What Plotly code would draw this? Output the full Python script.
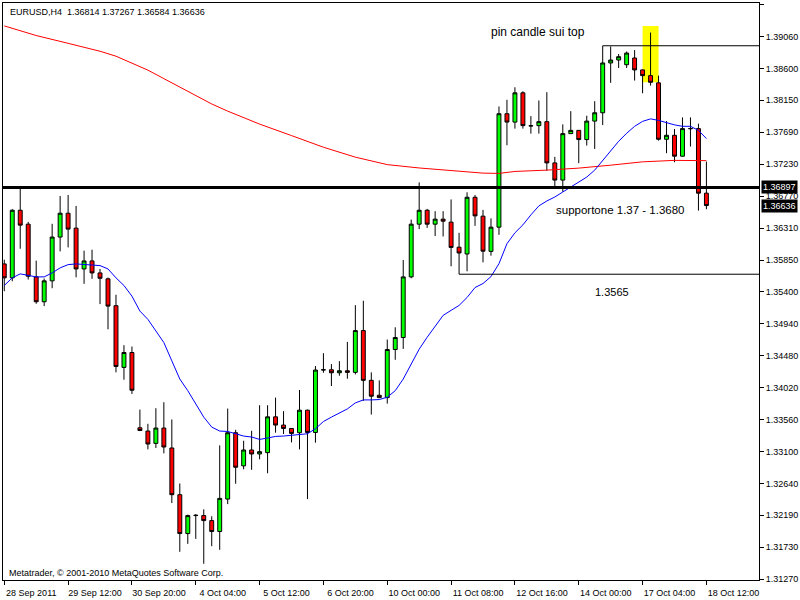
import plotly.graph_objects as go

# ---- data (EURUSD H4) ----
open_ = [1.35798, 1.35598, 1.36569, 1.36369, 1.35612, 1.35255, 1.35555, 1.36184, 1.36526, 1.36312,
         1.35726, 1.35841, 1.35669, 1.35584, 1.35198, 1.34312, 1.34526, 1.33445, 1.33398, 1.33221,
         1.33441, 1.33155, 1.32484, 1.31926, 1.32184, 1.32184, 1.32112, 1.31955, 1.32421, 1.33374,
         1.32898, 1.33126, 1.33069, 1.33088, 1.33602, 1.33484, 1.33435, 1.33374, 1.33698, 1.33378,
         1.34275, 1.34278, 1.34235, 1.34264, 1.34241, 1.34841, 1.34126, 1.33912, 1.33878, 1.34569,
         1.34741, 1.35612, 1.36369, 1.36569, 1.36369, 1.36441, 1.36398, 1.36038, 1.35941, 1.36755,
         1.36484, 1.35978, 1.36326, 1.37955, 1.37835, 1.38255, 1.37784, 1.37784, 1.37841, 1.37249,
         1.37002, 1.37669, 1.37716, 1.37584, 1.37849, 1.37969, 1.38684, 1.38726, 1.38659, 1.38755,
         1.38584, 1.38502, 1.38398, 1.37588, 1.37645, 1.37345, 1.37741, 1.37741, 1.36814]
high = [1.35859, 1.36584, 1.36898, 1.36402, 1.35845, 1.35588, 1.36374, 1.36774, 1.36788, 1.36631,
        1.35988, 1.36002, 1.35726, 1.35602, 1.35355, 1.34631, 1.34612, 1.33706, 1.33502, 1.33726,
        1.33812, 1.33564, 1.32645, 1.32198, 1.32206, 1.32274, 1.32174, 1.33192, 1.33721, 1.33416,
        1.33259, 1.33402, 1.33769, 1.33769, 1.33878, 1.33684, 1.33440, 1.33988, 1.33705, 1.34331,
        1.34516, 1.34359, 1.34402, 1.34678, 1.35206, 1.35269, 1.34241, 1.34126, 1.34712, 1.34888,
        1.35855, 1.36435, 1.36969, 1.36588, 1.36555, 1.36555, 1.36724, 1.36245, 1.36826, 1.36788,
        1.36574, 1.36452, 1.38059, 1.38155, 1.38335, 1.38278, 1.37921, 1.38145, 1.38264, 1.37335,
        1.37802, 1.37992, 1.37720, 1.37926, 1.38135, 1.38931, 1.38921, 1.38812, 1.38849, 1.38869,
        1.38590, 1.39121, 1.38502, 1.37849, 1.37735, 1.37902, 1.37902, 1.37812, 1.37267]
low = [1.35406, 1.35549, 1.36016, 1.35574, 1.35226, 1.35192, 1.35449, 1.35978, 1.36035, 1.35606,
       1.35512, 1.35584, 1.35221, 1.34859, 1.34241, 1.34135, 1.33931, 1.33398, 1.33135, 1.33155,
       1.33078, 1.32364, 1.31664, 1.31778, 1.31849, 1.31492, 1.31745, 1.31692, 1.32349, 1.32641,
       1.32849, 1.32841, 1.32992, 1.32792, 1.33374, 1.33355, 1.33235, 1.33135, 1.32421, 1.33231,
       1.34235, 1.34045, 1.34192, 1.34149, 1.34212, 1.33831, 1.33635, 1.33870, 1.33792, 1.34421,
       1.34578, 1.35592, 1.36298, 1.36316, 1.36198, 1.36192, 1.35764, 1.35650, 1.35692, 1.36345,
       1.35821, 1.35916, 1.36216, 1.37502, 1.37741, 1.37741, 1.37669, 1.37669, 1.37135, 1.36884,
       1.36835, 1.37669, 1.37245, 1.37498, 1.37449, 1.37792, 1.38398, 1.38612, 1.38612, 1.38431,
       1.38249, 1.38359, 1.37569, 1.37388, 1.37259, 1.37340, 1.37484, 1.36564, 1.36584]
close = [1.35598, 1.36569, 1.36355, 1.35621, 1.35255, 1.35555, 1.36184, 1.36526, 1.36298, 1.35726,
         1.35841, 1.35669, 1.35592, 1.35192, 1.34326, 1.34526, 1.33984, 1.33406, 1.33212, 1.33441,
         1.33169, 1.32484, 1.31926, 1.32184, 1.32188, 1.32112, 1.31955, 1.32431, 1.33374, 1.32878,
         1.33126, 1.33069, 1.33102, 1.33602, 1.33484, 1.33435, 1.33364, 1.33698, 1.33378, 1.34274,
         1.34278, 1.34235, 1.34264, 1.34241, 1.34841, 1.34126, 1.33898, 1.33878, 1.34569, 1.34741,
         1.35612, 1.36369, 1.36569, 1.36369, 1.36441, 1.36412, 1.36035, 1.35955, 1.36755, 1.36488,
         1.35981, 1.36326, 1.37955, 1.37835, 1.38255, 1.37784, 1.37780, 1.37841, 1.37249, 1.37002,
         1.37669, 1.37716, 1.37584, 1.37849, 1.37969, 1.38684, 1.38726, 1.38774, 1.38826, 1.38584,
         1.38502, 1.38406, 1.37588, 1.37645, 1.37345, 1.37741, 1.37741, 1.36814, 1.36636]

ma_blue = [1.35488, 1.35598, 1.35655, 1.35635, 1.35612, 1.35612, 1.35669, 1.35741, 1.35788, 1.35798,
           1.35792, 1.35788, 1.35774, 1.35726, 1.35598, 1.35488, 1.35335, 1.35121, 1.35002, 1.34835,
           1.34669, 1.34406, 1.34145, 1.33978, 1.33788, 1.33598, 1.33455, 1.33398, 1.33392, 1.33359,
           1.33326, 1.33312, 1.33278, 1.33298, 1.33321, 1.33326, 1.33335, 1.33345, 1.33359, 1.33431,
           1.33535, 1.33598, 1.33655, 1.33716, 1.33802, 1.33845, 1.33845, 1.33850, 1.33884, 1.33978,
           1.34145, 1.34359, 1.34574, 1.34745, 1.34906, 1.35059, 1.35131, 1.35202, 1.35316, 1.35459,
           1.35516, 1.35616, 1.35802, 1.36088, 1.36245, 1.36359, 1.36502, 1.36631, 1.36702, 1.36759,
           1.36831, 1.36902, 1.36974, 1.37045, 1.37145, 1.37288, 1.37431, 1.37559, 1.37674, 1.37774,
           1.37845, 1.37881, 1.37859, 1.37824, 1.37795, 1.37774, 1.37774, 1.37716, 1.37598]

ma_red_idx = [0, 4, 8, 12, 14, 16, 18, 20, 22, 24, 26, 28, 30, 32, 36, 40, 44, 48, 52, 56,
              60, 62, 64, 68, 72, 76, 80, 84, 88]
ma_red_val = [1.39216, 1.39078, 1.38966, 1.38852, 1.38781, 1.38684, 1.38581, 1.38459, 1.38341,
              1.38216, 1.38095, 1.37992, 1.37902, 1.37806, 1.37641, 1.37474, 1.37331, 1.37224,
              1.37176, 1.37134, 1.37102, 1.37098, 1.37126, 1.37145, 1.37174, 1.37216, 1.37264,
              1.37285, 1.37281]

x_tick_idx = [0, 8, 16, 24, 32, 40, 48, 56, 64, 72, 80, 88]
x_tick_text = ["28 Sep 2011", "29 Sep 12:00", "30 Sep 20:00", "4 Oct 04:00", "5 Oct 12:00",
               "6 Oct 20:00", "10 Oct 00:00", "11 Oct 08:00", "12 Oct 16:00", "14 Oct 00:00",
               "17 Oct 04:00", "18 Oct 12:00"]
y_ticks = [1.39520, 1.39060, 1.38600, 1.38150, 1.37690, 1.37230, 1.36770, 1.36310, 1.35850,
           1.35400, 1.34940, 1.34480, 1.34020, 1.33560, 1.33100, 1.32640, 1.32190, 1.31730, 1.31270]

support_level = 1.36897
low_level = 1.3565
top_level = 1.38931
top_start = 75
low_start = 57
pin_box = (80, 82, 1.38406, 1.39216)

symbol = "EURUSD,H4"

FONT = "Tahoma, 'Liberation Sans', Arial, sans-serif"
xs = list(range(len(open_)))
X_MAX = 94.59
X_MIN = -0.16

fig = go.Figure()

fig.add_shape(type="rect", xref="x", yref="y", x0=pin_box[0], x1=pin_box[1],
              y0=pin_box[2], y1=pin_box[3], fillcolor="#FFFF00", line_width=0, layer="below")

fig.add_trace(go.Scatter(x=ma_red_idx, y=ma_red_val, mode="lines",
                         line=dict(color="#FF0000", width=1), hoverinfo="skip"))
fig.add_trace(go.Scatter(x=xs, y=ma_blue, mode="lines",
                         line=dict(color="#0000FF", width=1), hoverinfo="skip"))

fig.add_trace(go.Candlestick(
    x=xs, open=open_, high=high, low=low, close=close,
    increasing=dict(fillcolor="#00FF00", line=dict(color="#000000", width=1)),
    decreasing=dict(fillcolor="#FF0000", line=dict(color="#000000", width=1)),
    whiskerwidth=0,
))

# horizontal levels
fig.add_shape(type="line", xref="paper", yref="y", x0=0, x1=1, y0=support_level, y1=support_level,
              line=dict(color="#000000", width=3), layer="above")
fig.add_shape(type="line", xref="x", yref="y", x0=low_start, x1=X_MAX, y0=low_level, y1=low_level,
              line=dict(color="#000000", width=1), layer="above")
fig.add_shape(type="line", xref="x", yref="y", x0=top_start, x1=X_MAX, y0=top_level, y1=top_level,
              line=dict(color="#000000", width=1), layer="above")

# text objects
fig.add_annotation(x=60.7, y=1.39131, xref="x", yref="y", text="pin candle sui top",
                   showarrow=False, xanchor="left", yanchor="middle",
                   font=dict(family=FONT, size=12, color="#000000"))
fig.add_annotation(x=68.9, y=1.36574, xref="x", yref="y", text="supportone 1.37 - 1.3680",
                   showarrow=False, xanchor="left", yanchor="middle",
                   font=dict(family=FONT, size=11.5, color="#000000"))
fig.add_annotation(x=73.8, y=1.35388, xref="x", yref="y", text=f"{low_level:.4f}",
                   showarrow=False, xanchor="left", yanchor="middle",
                   font=dict(family=FONT, size=11, color="#000000"))

# header and copyright
fig.add_annotation(x=0.0066, y=0.9845, xref="paper", yref="paper",
                   text=f"{symbol}  {open_[-1]:.5f} {high[-1]:.5f} {low[-1]:.5f} {close[-1]:.5f}",
                   showarrow=False, xanchor="left", yanchor="middle",
                   font=dict(family=FONT, size=9, color="#000000"))
fig.add_annotation(x=0.005, y=0.012, xref="paper", yref="paper",
                   text="Metatrader, © 2001-2010 MetaQuotes Software Corp.",
                   showarrow=False, xanchor="left", yanchor="middle",
                   font=dict(family=FONT, size=9, color="#000000"))

# price labels on the right scale
for lvl in (support_level, close[-1]):
    fig.add_annotation(x=1.0, y=lvl, xref="paper", yref="y", text=f"{lvl:.5f}",
                       showarrow=False, xanchor="left", yanchor="middle", xshift=2,
                       bgcolor="#000000", borderpad=1,
                       font=dict(family=FONT, size=9, color="#FFFFFF"))

fig.update_layout(
    width=800, height=600,
    margin=dict(l=2, r=40, t=2, b=18),
    paper_bgcolor="#FFFFFF", plot_bgcolor="#FFFFFF",
    showlegend=False,
    font=dict(family=FONT, size=9, color="#000000"),
    xaxis=dict(range=[X_MIN, X_MAX], showgrid=False, zeroline=False,
               rangeslider=dict(visible=False),
               tickmode="array", tickvals=x_tick_idx, ticktext=x_tick_text,
               ticks="outside", ticklen=4, tickcolor="#000000",
               showline=True, linecolor="#000000", linewidth=1, mirror=True,
               ticklabelshift=27, ticklabelstandoff=0,
               tickfont=dict(family=FONT, size=9, color="#000000")),
    yaxis=dict(range=[1.31259, 1.39545], side="right", showgrid=False, zeroline=False,
               tickmode="array", tickvals=y_ticks, ticktext=[f"{v:.5f}" for v in y_ticks],
               ticks="outside", ticklen=4, tickcolor="#000000",
               showline=True, linecolor="#000000", linewidth=1, mirror=True,
               tickfont=dict(family=FONT, size=9, color="#000000")),
)

fig.write_html("out.html", config={"displayModeBar": False},
               post_script="document.body.style.margin='0px';")
